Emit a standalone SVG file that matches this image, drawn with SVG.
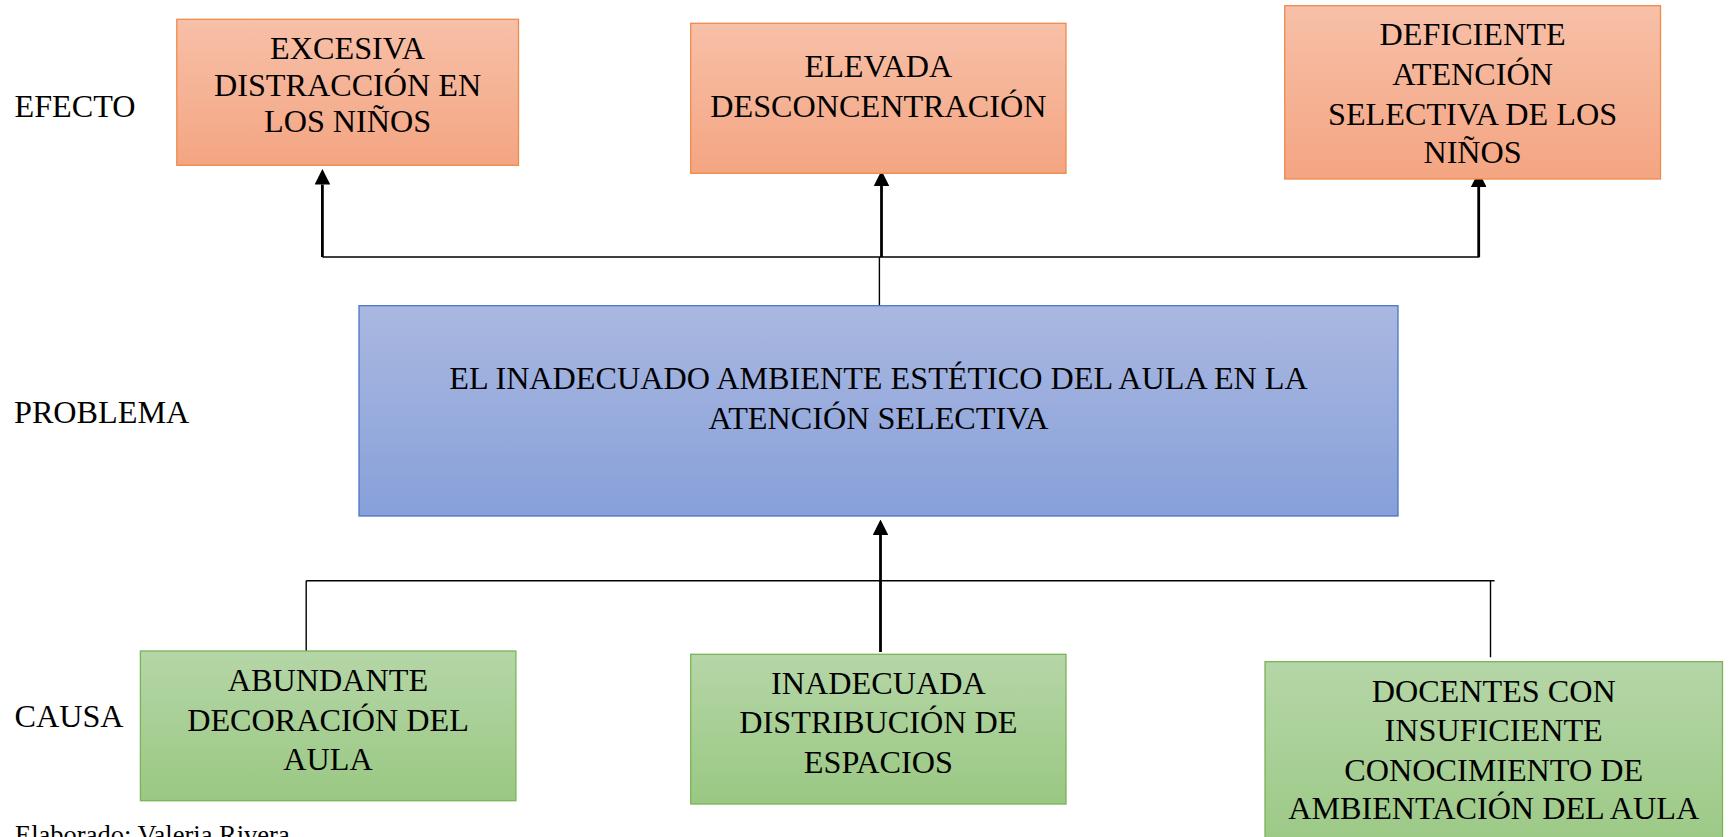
<svg xmlns="http://www.w3.org/2000/svg" width="1731" height="837" viewBox="0 0 1731 837">
<style>
text{font-family:"Liberation Serif","Times New Roman",serif;font-size:32.2px;fill:#000}
.c{text-anchor:middle}
.note{font-size:26.5px}
.o{fill:url(#gO);stroke:#F08A4B;stroke-width:1.3}
.b{fill:url(#gB);stroke:#4A76C8;stroke-width:1.3}
.g{fill:url(#gG);stroke:#7AB356;stroke-width:1.3}
.thin{stroke:#000;stroke-width:1.4;fill:none}
.arr{stroke:#000;stroke-width:2.8;fill:none;marker-end:url(#ah)}
</style>
<defs>
<linearGradient id="gO" x1="0" y1="0" x2="0" y2="1"><stop offset="0" stop-color="#F7C0A8"/><stop offset="1" stop-color="#F4A582"/></linearGradient>
<linearGradient id="gB" x1="0" y1="0" x2="0" y2="1"><stop offset="0" stop-color="#AAB8E1"/><stop offset="1" stop-color="#87A0D9"/></linearGradient>
<linearGradient id="gG" x1="0" y1="0" x2="0" y2="1"><stop offset="0" stop-color="#B5D6A7"/><stop offset="1" stop-color="#9AC883"/></linearGradient>
<marker id="ah" viewBox="0 0 15.5 15.6" refX="0" refY="7.8" markerWidth="15.5" markerHeight="15.6" markerUnits="userSpaceOnUse" orient="auto"><path d="M0,0 L15.5,7.8 L0,15.6 z" fill="#000"/></marker>
</defs>

<g id="labels">
<text x="14.5" y="117">EFECTO</text>
<text x="14" y="423">PROBLEMA</text>
<text x="14.5" y="727">CAUSA</text>
<text class="note" x="15" y="843.5">Elaborado: Valeria Rivera</text>
</g>

<g id="connectors">
<line class="thin" x1="322.4" y1="257" x2="1479.4" y2="257"/>
<line class="arr" x1="322.4" y1="257" x2="322.4" y2="184.5"/>
<line class="arr" x1="881.5" y1="257" x2="881.5" y2="186"/>
<line class="arr" x1="1478.7" y1="257" x2="1478.7" y2="187"/>
<line class="thin" x1="879.4" y1="257" x2="879.4" y2="308"/>
<line class="thin" x1="306.2" y1="580.7" x2="1494.6" y2="580.7"/>
<line class="thin" x1="306.2" y1="580.7" x2="306.2" y2="656.7"/>
<line class="thin" x1="1490.5" y1="580.7" x2="1490.5" y2="657.3"/>
<line class="arr" x1="880.5" y1="652" x2="880.5" y2="535"/>
</g>

<g id="efecto1">
<rect class="o" x="176.8" y="19.3" width="341.7" height="146"/>
<text class="c" x="347.6" y="59.3">EXCESIVA</text>
<text class="c" x="347.6" y="96">DISTRACCIÓN EN</text>
<text class="c" x="347.6" y="132.3">LOS NIÑOS</text>
</g>
<g id="efecto2">
<rect class="o" x="690.7" y="23.3" width="375.3" height="150"/>
<text class="c" x="878.4" y="77.3">ELEVADA</text>
<text class="c" x="878.4" y="117.3">DESCONCENTRACIÓN</text>
</g>
<g id="efecto3">
<rect class="o" x="1284.7" y="5.7" width="375.8" height="173.3"/>
<text class="c" x="1472.6" y="45">DEFICIENTE</text>
<text class="c" x="1472.6" y="85">ATENCIÓN</text>
<text class="c" x="1472.6" y="125">SELECTIVA DE LOS</text>
<text class="c" x="1472.6" y="163.3">NIÑOS</text>
</g>

<g id="problema">
<rect class="b" x="359" y="305.7" width="1039" height="210.3"/>
<text class="c" x="878.5" y="389.3">EL INADECUADO AMBIENTE ESTÉTICO DEL AULA EN LA</text>
<text class="c" x="878.5" y="429.3">ATENCIÓN SELECTIVA</text>
</g>

<g id="causa1">
<rect class="g" x="140.4" y="651" width="375.5" height="149.7"/>
<text class="c" x="328" y="690.7">ABUNDANTE</text>
<text class="c" x="328" y="730.7">DECORACIÓN DEL</text>
<text class="c" x="328" y="770">AULA</text>
</g>
<g id="causa2">
<rect class="g" x="690.7" y="654.3" width="375.3" height="149.7"/>
<text class="c" x="878.4" y="694">INADECUADA</text>
<text class="c" x="878.4" y="733.3">DISTRIBUCIÓN DE</text>
<text class="c" x="878.4" y="772.7">ESPACIOS</text>
</g>
<g id="causa3">
<rect class="g" x="1265" y="661.7" width="457.5" height="200"/>
<text class="c" x="1493.7" y="701.7">DOCENTES CON</text>
<text class="c" x="1493.7" y="740.7">INSUFICIENTE</text>
<text class="c" x="1493.7" y="780.7">CONOCIMIENTO DE</text>
<text class="c" x="1493.7" y="819.3">AMBIENTACIÓN DEL AULA</text>
</g>
</svg>
